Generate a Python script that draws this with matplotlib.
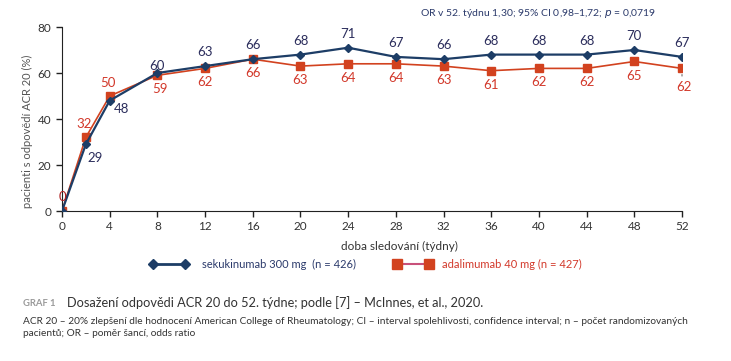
import matplotlib
matplotlib.use("Agg")
import matplotlib.pyplot as plt
from matplotlib.lines import Line2D

# data
weeks = [0, 2, 4, 8, 12, 16, 20, 24, 28, 32, 36, 40, 44, 48, 52]
seku = [0, 29, 48, 60, 63, 66, 68, 71, 67, 66, 68, 68, 68, 70, 67]
adal = [0, 32, 50, 59, 62, 66, 63, 64, 64, 63, 61, 62, 62, 65, 62]
xticks = list(range(0, 53, 4))
yticks = [0, 20, 40, 60, 80]

blue = "#1d3d66"
blue_txt = "#2b2d5c"
red = "#d2421f"
red_txt = "#d2382a"

plt.rcParams['font.family'] = ['Lato', 'DejaVu Sans']

fig = plt.figure(figsize=(7.31, 3.61), dpi=100)
ax = fig.add_axes([62/731, 150/361, 620/731, 184/361])

ax.plot(weeks, seku, color=blue, lw=1.6, marker='D', ms=4.5, zorder=3)
ax.plot(weeks, adal, color=red, lw=1.2, marker='s', ms=6, zorder=2)

# value labels
for w, v in zip(weeks, seku):
    if w == 0:
        continue
    if w == 2:
        ax.annotate(str(v), (w, v), xytext=(2, -14), textcoords='offset pixels',
                    ha='left', va='center', color=blue_txt, fontsize=9.5)
    elif w == 4:
        ax.annotate(str(v), (w, v), xytext=(4, -8), textcoords='offset pixels',
                    ha='left', va='center', color=blue_txt, fontsize=9.5)
    else:
        dy = 7 if w == 8 else 14
        ax.annotate(str(v), (w, v), xytext=(0, dy), textcoords='offset pixels',
                    ha='center', va='center', color=blue_txt, fontsize=9.5)

for w, v in zip(weeks, adal):
    if w == 0:
        ax.annotate(str(v), (w, v), xytext=(0, 14), textcoords='offset pixels',
                    ha='center', va='center', color="#b02020", fontsize=9.5)
    elif w in (2, 4):
        ax.annotate(str(v), (w, v), xytext=(-2, 13), textcoords='offset pixels',
                    ha='center', va='center', color=red_txt, fontsize=9.5)
    elif w == 52:
        ax.annotate(str(v), (w, v), xytext=(2, -19), textcoords='offset pixels',
                    ha='center', va='center', color=red_txt, fontsize=9.5)
        ax.annotate('', (w, v - 1.5), xytext=(w, v - 4.5),
                    arrowprops=dict(arrowstyle='-', color='#888888', lw=1))
    else:
        dx = 3 if w == 8 else 0
        ax.annotate(str(v), (w, v), xytext=(dx, -14), textcoords='offset pixels',
                    ha='center', va='center', color=red_txt, fontsize=9.5)

ax.set_xlim(0, 52)
ax.set_ylim(0, 80)
ax.set_xticks(xticks)
ax.set_yticks(yticks)
ax.tick_params(labelsize=8.5, colors='#222222', length=4, width=1)
for s in ('top', 'right'):
    ax.spines[s].set_visible(False)
for s in ('left', 'bottom'):
    ax.spines[s].set_color('#222222')
ax.set_xlabel('doba sledování (týdny)', fontsize=8.5, color='#333333')
ax.xaxis.set_label_coords((399 - 62) / 620, -30 / 184)
ax.set_ylabel('pacienti s odpovědí ACR 20 (%)', fontsize=8, color='#555555')
ax.yaxis.set_label_coords(-29 / 620, (211 - 131) / 184)
for lab in ax.get_xticklabels() + ax.get_yticklabels():
    lab.set_color('#333333')

fig.text(538/731, 1 - 14/361, 'OR v 52. týdnu 1,30; 95% CI 0,98–1,72; $p$ = 0,0719',
         ha='center', va='center', fontsize=7.5, color='#2b3a6b')

# legend drawn by hand
ly = 1 - 264/361
fig.add_artist(Line2D([153/731, 185/731], [ly, ly], color=blue, lw=2,
                      marker='D', ms=5, transform=fig.transFigure))
fig.text(202/731, ly, 'sekukinumab 300 mg  (n = 426)', fontsize=8, color='#2b3a6b',
         va='center')
fig.add_artist(Line2D([397/731, 429/731], [ly, ly], color='#c8507a', lw=1.5,
                      transform=fig.transFigure))
fig.add_artist(Line2D([397/731, 429/731], [ly, ly], color=red, lw=0,
                      marker='s', ms=7, transform=fig.transFigure))
fig.text(442/731, ly, 'adalimumab 40 mg (n = 427)', fontsize=8, color=red_txt,
         va='center')

# caption
fig.text(23/731, 1 - 303/361, 'GRAF 1', fontsize=6.8, color='#9a9a9a', va='center',
         weight='bold')
fig.text(67/731, 1 - 303/361,
         'Dosažení odpovědi ACR 20 do 52. týdne; podle [7] – McInnes, et al., 2020.',
         fontsize=9.2, color='#333333', va='center')
fig.text(23/731, 1 - 321/361,
         'ACR 20 – 20% zlepšení dle hodnocení American College of Rheumatology; '
         'CI – interval spolehlivosti, confidence interval; n – počet randomizovaných',
         fontsize=7.3, color='#333333', va='center')
fig.text(23/731, 1 - 333/361, 'pacientů; OR – poměr šancí, odds ratio',
         fontsize=7.3, color='#333333', va='center')

fig.savefig('out.png', dpi=100)
